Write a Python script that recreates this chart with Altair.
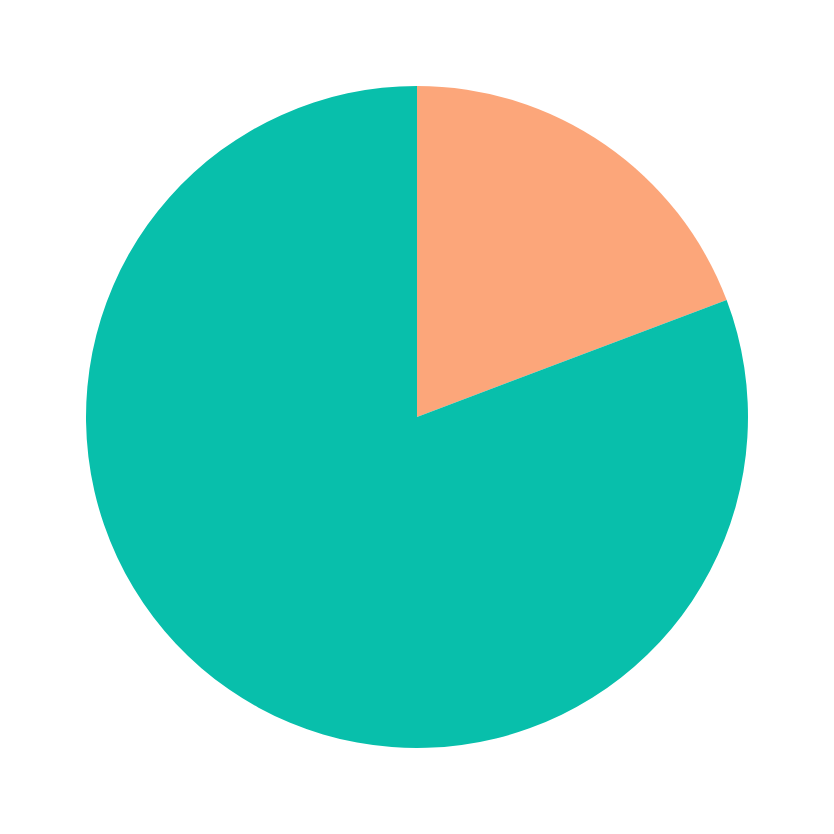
import altair as alt
import pandas as pd

categories = ["A", "B"]
values = [19.25, 80.75]
order = [0, 1]
colors = ["#FCA67A", "#08BFAB"]

df = pd.DataFrame({"category": categories, "value": values, "order": order})

chart = alt.Chart(df).mark_arc(outerRadius=331, stroke=None).encode(
    theta=alt.Theta("value:Q", stack=True),
    color=alt.Color("category:N", scale=alt.Scale(domain=categories, range=colors), legend=None),
    order=alt.Order("order:Q"),
).properties(
    width=818, height=818,
    autosize=alt.AutoSizeParams(type="fit", contains="padding"),
    padding=0,
).configure_view(stroke=None)

chart.save("out.html", embed_options={"renderer": "svg", "actions": False})
